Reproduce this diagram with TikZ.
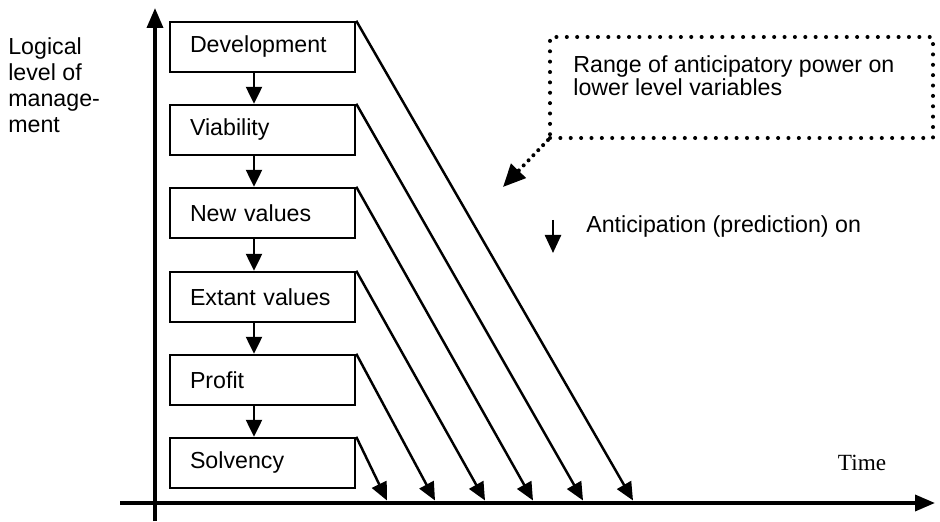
\documentclass[tikz,border=0pt]{standalone}
\usepackage{fontspec}
\setmainfont{Liberation Sans}
\newfontfamily\timesfont{Liberation Serif}
\usetikzlibrary{positioning, arrows.meta}
\tikzset{
level/.style={draw, line width=1.4pt, minimum height=1cm, text width=2.9cm, inner xsep=0.4cm, align=left, font=\fontsize{13.2}{13}\selectfont},
dotbox/.style={draw, line width=2.3pt, line cap=round, dash pattern=on 0pt off 5.9pt, minimum width=7.66cm, minimum height=2.02cm},
axis/.style={line width=2pt, -{Triangle[length=0.4cm, width=0.32cm]}},
down/.style={line width=1.4pt, -{Triangle[length=0.34cm, width=0.32cm]}},
antic/.style={line width=1.4pt, -{Triangle[length=0.36cm, width=0.32cm]}},
}

\begin{document}
\begin{tikzpicture}
    \useasboundingbox (-3.1,-0.36) rectangle (15.7,10.06);

    %axes
    \coordinate (ybot) at (0,-0.36);
    \coordinate (ytop) at (0,9.9);
    \coordinate (xleft) at (-0.7,0);
    \coordinate (xright) at (15.6,0);
    \draw[axis] (ybot)--(ytop);
    \draw[axis] (xleft)--(xright);

    %levels
    \node[level]  (dev) at (2.15,9.12) {Development};
    \node[level]  (via) at (2.15,7.46) {Viability};
    \node[level] (newv) at (2.15,5.80) {New values};
    \node[level]  (ext) at (2.15,4.12) {Extant values};
    \node[level] (prof) at (2.15,2.46) {Profit};
    \node[level] (solv) at (2.15,0.80) {Solvency};

    %arrows between levels
    \draw[down]  ([xshift=-0.17cm]dev.south)--([xshift=-0.17cm]via.north);
    \draw[down]  ([xshift=-0.17cm]via.south)--([xshift=-0.17cm]newv.north);
    \draw[down] ([xshift=-0.17cm]newv.south)--([xshift=-0.17cm]ext.north);
    \draw[down]  ([xshift=-0.17cm]ext.south)--([xshift=-0.17cm]prof.north);
    \draw[down] ([xshift=-0.17cm]prof.south)--([xshift=-0.17cm]solv.north);

    %points on the time axis
    \coordinate (t1) at (4.64,0.05);
    \coordinate (t2) at (5.60,0.05);
    \coordinate (t3) at (6.60,0.05);
    \coordinate (t4) at (7.56,0.05);
    \coordinate (t5) at (8.56,0.05);
    \coordinate (t6) at (9.56,0.05);

    %anticipation lines
    \draw[antic] (solv.north east)--(t1);
    \draw[antic] (prof.north east)--(t2);
    \draw[antic]  (ext.north east)--(t3);
    \draw[antic] (newv.north east)--(t4);
    \draw[antic]  (via.north east)--(t5);
    \draw[antic]  (dev.north east)--(t6);

    %labels
    \node[anchor=north west, inner sep=0, align=left, font=\fontsize{13.2}{14.8}\selectfont] (ylabel) at (-2.94,9.32) {Logical\\level of\\manage-\\ment};
    \node[inner sep=0, font=\fontsize{13.2}{13}\selectfont\timesfont] (time) at (14.14,0.8) {Time};

    %range box
    \node[dotbox] (range) at (11.73,8.31) { };
    \node[anchor=north west, inner sep=0, align=left, font=\fontsize{13.2}{13}\selectfont] (rangetxt) at (8.36,8.95) {Range of anticipatory power on\\lower level variables};
    \coordinate (rangetip) at (6.96,6.32);
    \draw[line width=2.3pt, line cap=round, dash pattern=on 0pt off 4pt, -{Triangle[length=0.45cm, width=0.4cm]}] (range.south west)--(rangetip);

    %legend
    \coordinate (legtop) at (7.96,5.66);
    \coordinate (legbot) at (7.96,5.0);
    \draw[antic] (legtop)--(legbot);
    \node[anchor=west, inner sep=0, font=\fontsize{13.2}{13}\selectfont] (legtxt) at (8.62,5.52) {Anticipation (prediction) on};
\end{tikzpicture}
\end{document}
